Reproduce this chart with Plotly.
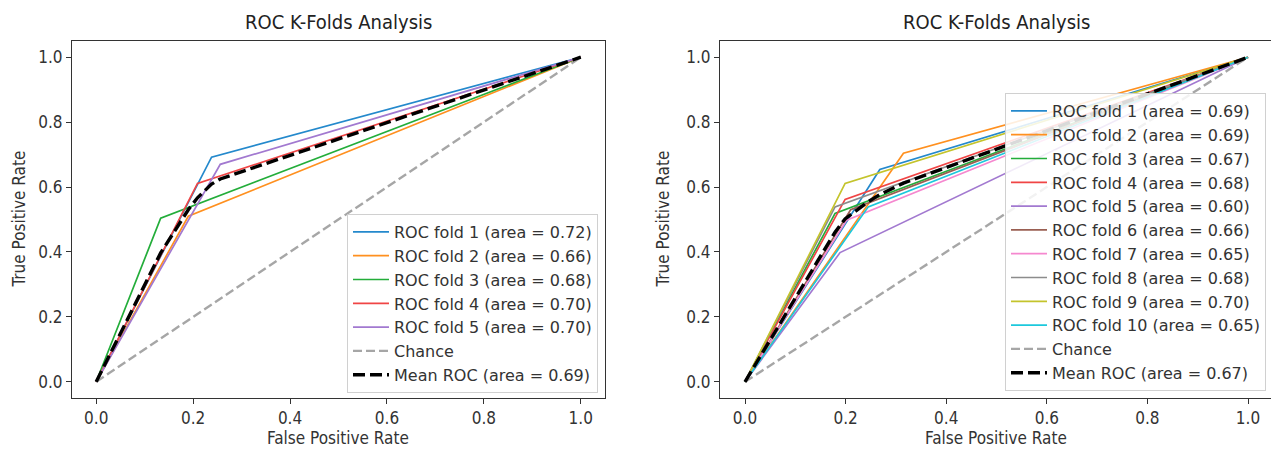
import plotly.graph_objects as go

# ---------------- data ----------------
left_fold_names = ["ROC fold 1 (area = 0.72)", "ROC fold 2 (area = 0.66)",
                   "ROC fold 3 (area = 0.68)", "ROC fold 4 (area = 0.70)",
                   "ROC fold 5 (area = 0.70)"]
left_fold_fpr = [[0, 0.238, 1], [0, 0.190, 1], [0, 0.133, 1], [0, 0.209, 1], [0, 0.256, 1]]
left_fold_tpr = [[0, 0.692, 1], [0, 0.510, 1], [0, 0.504, 1], [0, 0.611, 1], [0, 0.670, 1]]
left_mean_name = "Mean ROC (area = 0.69)"
left_mean_fpr = [0, 0.133, 0.190, 0.209, 0.238, 0.256, 1]
left_mean_tpr = [0, 0.397, 0.530, 0.567, 0.609, 0.625, 1]

right_fold_names = ["ROC fold 1 (area = 0.69)", "ROC fold 2 (area = 0.69)",
                    "ROC fold 3 (area = 0.67)", "ROC fold 4 (area = 0.68)",
                    "ROC fold 5 (area = 0.60)", "ROC fold 6 (area = 0.66)",
                    "ROC fold 7 (area = 0.65)", "ROC fold 8 (area = 0.68)",
                    "ROC fold 9 (area = 0.70)", "ROC fold 10 (area = 0.65)"]
right_fold_fpr = [[0, 0.268, 1], [0, 0.315, 1], [0, 0.179, 1], [0, 0.199, 1], [0, 0.189, 1],
                  [0, 0.210, 1], [0, 0.202, 1], [0, 0.179, 1], [0, 0.199, 1], [0, 0.245, 1]]
right_fold_tpr = [[0, 0.654, 1], [0, 0.704, 1], [0, 0.519, 1], [0, 0.562, 1], [0, 0.398, 1],
                  [0, 0.530, 1], [0, 0.498, 1], [0, 0.539, 1], [0, 0.611, 1], [0, 0.539, 1]]
right_mean_name = "Mean ROC (area = 0.67)"
right_mean_fpr = [0, 0.179, 0.199, 0.245, 0.268, 0.315, 1]
right_mean_tpr = [0, 0.461, 0.502, 0.555, 0.577, 0.612, 1]

chance_xy = [0, 1]
tick_vals = [0.0, 0.2, 0.4, 0.6, 0.8, 1.0]
tick_text = ["0.0", "0.2", "0.4", "0.6", "0.8", "1.0"]
title_text = "ROC K-Folds Analysis"
x_label = "False Positive Rate"
y_label = "True Positive Rate"

colors = ["#2489cc", "#ff901f", "#23ad3a", "#f04545", "#a279d0",
          "#9a5f52", "#f588cf", "#8c8c8c", "#c4c42c", "#1cc8dc"]

FONT = "DejaVu Sans Condensed, DejaVu Sans, sans-serif"
LFONT = "DejaVu Sans, sans-serif"
W, H = 1271, 450
TXT = "#333333"

fig = go.Figure()


def add_panel(names, fprs, tprs, mfpr, mtpr, mname, xa, ya, leg):
    for i, (n, fx, fy) in enumerate(zip(names, fprs, tprs)):
        fig.add_trace(go.Scatter(x=fx, y=fy, mode="lines", name=n,
                                 line=dict(color=colors[i], width=1.7),
                                 xaxis=xa, yaxis=ya, legend=leg))
    fig.add_trace(go.Scatter(x=chance_xy, y=chance_xy, mode="lines", name="Chance",
                             line=dict(color="rgba(150,150,150,0.85)", width=2.4, dash="9px,4px"),
                             xaxis=xa, yaxis=ya, legend=leg))
    fig.add_trace(go.Scatter(x=mfpr, y=mtpr, mode="lines", name=mname,
                             line=dict(color="black", width=3.4, dash="12px,5px"),
                             xaxis=xa, yaxis=ya, legend=leg))


add_panel(left_fold_names, left_fold_fpr, left_fold_tpr, left_mean_fpr, left_mean_tpr,
          left_mean_name, "x", "y", "legend")
add_panel(right_fold_names, right_fold_fpr, right_fold_tpr, right_mean_fpr, right_mean_tpr,
          right_mean_name, "x2", "y2", "legend2")

ydom = [1 - 398 / H, 1 - 41 / H]
axis_common = dict(showgrid=False, zeroline=False, showline=True, mirror=True,
                   linecolor="#333333", linewidth=1, ticks="outside", ticklen=5,
                   tickcolor="#333333", tickvals=tick_vals, ticktext=tick_text,
                   tickfont=dict(family=FONT, size=17, color=TXT))

legend_common = dict(xanchor="right", yanchor="bottom",
                     bgcolor="rgba(255,255,255,0.85)", bordercolor="#d0d0d0", borderwidth=1,
                     font=dict(family=LFONT, size=16, color=TXT), itemwidth=36,
                     tracegroupgap=0)

fig.update_layout(
    width=W, height=H, margin=dict(l=0, r=0, t=0, b=0),
    paper_bgcolor="white", plot_bgcolor="white",
    font=dict(family=FONT, size=17, color=TXT),
    xaxis=dict(domain=[72 / W, 605 / W], range=[-0.05, 1.05], anchor="y", **axis_common),
    yaxis=dict(domain=ydom, range=[-0.05, 1.05], anchor="x", **axis_common),
    xaxis2=dict(domain=[720 / W, 1.0], range=[-0.0497, 1.0457], anchor="y2", **axis_common),
    yaxis2=dict(domain=ydom, range=[-0.05, 1.05], anchor="x2", **axis_common),
    legend=dict(x=598 / W, y=1 - 393 / H, **legend_common),
    legend2=dict(x=1266 / W, y=1 - 391 / H, **legend_common),
    showlegend=True,
)

annotations = []
for cx, xc_label in [((72 + 605) / 2 / W, (72 + 605) / 2 / W), ((720 + 1273) / 2 / W, (720 + 1271) / 2 / W)]:
    annotations.append(dict(text=title_text, x=cx, y=1 - 22 / H, xref="paper", yref="paper",
                            xanchor="center", yanchor="middle", showarrow=False,
                            font=dict(family=FONT, size=20, color="#222222")))
    annotations.append(dict(text=x_label, x=xc_label, y=1 - 438 / H, xref="paper", yref="paper",
                            xanchor="center", yanchor="middle", showarrow=False,
                            font=dict(family=FONT, size=17, color=TXT)))
for lx in [18 / W, 662 / W]:
    annotations.append(dict(text=y_label, x=lx, y=(ydom[0] + ydom[1]) / 2, xref="paper", yref="paper",
                            xanchor="center", yanchor="middle", showarrow=False, textangle=-90,
                            font=dict(family=FONT, size=17, color=TXT)))
fig.update_layout(annotations=annotations)

fig.write_html("out.html")
